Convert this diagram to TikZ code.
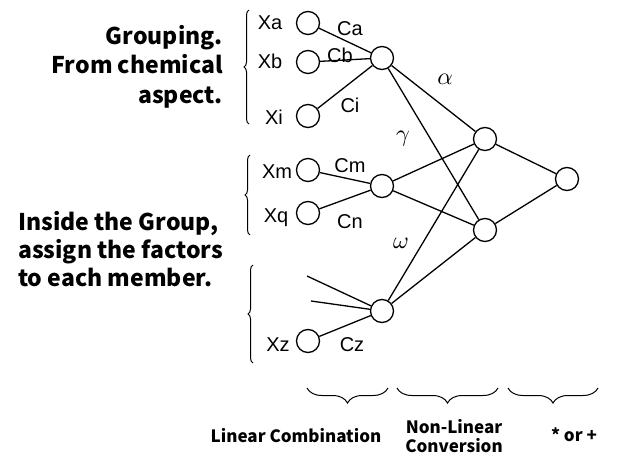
\documentclass[tikz,border=0pt]{standalone}
\usepackage{fontspec}
\setmainfont{Liberation Sans}
\newfontfamily\jp{Noto Sans CJK JP}
\usetikzlibrary{decorations.pathreplacing}
\begin{document}
\begin{tikzpicture}[x=1pt,y=-1pt,
  neuron/.style={circle,draw,line width=1.3pt,minimum size=23pt,inner sep=0pt},
  conn/.style={line width=1.3pt},
  lbl/.style={anchor=base,inner sep=0pt,font=\fontsize{20}{20}\selectfont},
  greek/.style={anchor=base,inner sep=0pt,scale=2.4},
  bigtxt/.style={inner sep=0pt,font=\jp\bfseries\fontsize{23}{23}\selectfont},
  smalltxt/.style={anchor=base,inner sep=0pt,font=\jp\bfseries\fontsize{17}{17}\selectfont},
  lbrace/.style={decorate,decoration={brace,amplitude=5pt},line width=1pt},
  bbrace/.style={decorate,decoration={brace,amplitude=15pt},line width=1pt}]
\useasboundingbox (0,0) rectangle (633,471);
% neurons
\node[neuron] (xa) at (308,23) {};
\node[neuron] (xb) at (308,62) {};
\node[neuron] (xi) at (308,116) {};
\node[neuron] (h1) at (382,58) {};
\node[neuron] (xm) at (308,170) {};
\node[neuron] (xq) at (308,213) {};
\node[neuron] (h2) at (382,186) {};
\node[neuron] (xz) at (308,341) {};
\node[neuron] (h3) at (382,311) {};
\node[neuron] (n1) at (485,139) {};
\node[neuron] (n2) at (485,230) {};
\node[neuron] (o) at (567,179) {};
\coordinate (f1) at (307,276);
\coordinate (f2) at (311,301);
% connections
\draw[conn] (xa) -- (h1);
\draw[conn] (xb) -- (h1);
\draw[conn] (xi) -- (h1);
\draw[conn] (xm) -- (h2);
\draw[conn] (xq) -- (h2);
\draw[conn] (xz) -- (h3);
\draw[conn] (f1) -- (h3);
\draw[conn] (f2) -- (h3);
\draw[conn] (h1) -- (n1);
\draw[conn] (h1) -- (n2);
\draw[conn] (h2) -- (n1);
\draw[conn] (h2) -- (n2);
\draw[conn] (h3) -- (n1);
\draw[conn] (h3) -- (n2);
\draw[conn] (n1) -- (o);
\draw[conn] (n2) -- (o);
% labels
\node[lbl] (lxa) at (270,29) {Xa};
\node[lbl] (lxb) at (270,68) {Xb};
\node[lbl] (lxi) at (274,124) {Xi};
\node[lbl] (lca) at (350,35) {Ca};
\node[lbl] (lcb) at (340,62) {Cb};
\node[lbl] (lci) at (350,112) {Ci};
\node[lbl] (lxm) at (277,178) {Xm};
\node[lbl] (lxq) at (276,222) {Xq};
\node[lbl] (lcm) at (350,172) {Cm};
\node[lbl] (lcn) at (350,228) {Cn};
\node[lbl] (lxz) at (278,351) {Xz};
\node[lbl] (lcz) at (352,351) {Cz};
\node[greek] (alpha) at (445,84) {$\alpha$};
\node[greek] (gamma) at (403,141) {$\gamma$};
\node[greek] (omega) at (401,248) {$\omega$};
% left braces
\draw[lbrace] (249,124) -- (249,10);
\draw[lbrace] (250,235) -- (250,155);
\draw[lbrace] (253,363) -- (253,265);
% bottom braces
\draw[bbrace] (388,388) -- (307,388);
\draw[bbrace] (498,388) -- (397,388);
\draw[bbrace] (598,388) -- (508,388);
% left texts
\node[bigtxt,anchor=base east] (t1) at (223,45) {Grouping.};
\node[bigtxt,anchor=base east] (t2) at (223,74) {From chemical};
\node[bigtxt,anchor=base east] (t3) at (223,103) {aspect.};
\node[bigtxt,anchor=base west] (t4) at (18,230) {Inside the Group,};
\node[bigtxt,anchor=base west] (t5) at (18,258) {assign the factors};
\node[bigtxt,anchor=base west] (t6) at (18,286) {to each member.};
% bottom texts
\node[smalltxt] (b1) at (296,442) {Linear Combination};
\node[smalltxt] (b2) at (454,433) {Non-Linear};
\node[smalltxt] (b3) at (454,452) {Conversion};
\node[smalltxt] (b4) at (574,441) {* or +};
\end{tikzpicture}
\end{document}
